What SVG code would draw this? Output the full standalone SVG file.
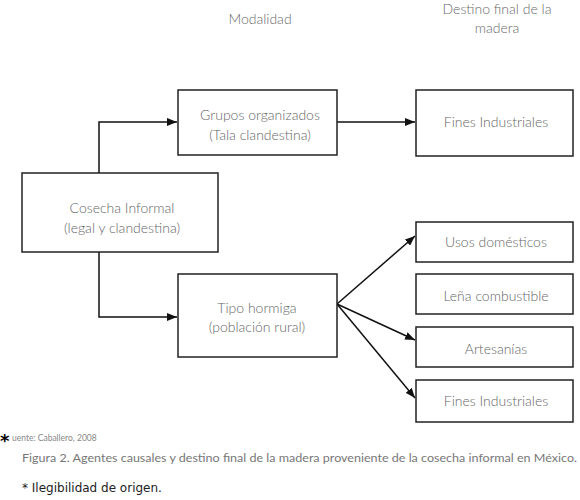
<svg xmlns="http://www.w3.org/2000/svg" width="580" height="500" viewBox="0 0 580 500">
<style>
  .box { fill: #fff; stroke: #222; stroke-width: 1.5; }
  .lbl { font-family: Lato, "Liberation Sans", sans-serif; font-size: 14px; fill: #666; text-anchor: middle; font-weight: 300; }
  .hdr { font-family: Lato, "Liberation Sans", sans-serif; font-size: 14px; fill: #6a6a6a; text-anchor: middle; font-weight: 300; }
  .con { fill: none; stroke: #111; stroke-width: 1.5; }
</style>
<defs>
  <marker id="ah" viewBox="0 0 10 8" refX="10" refY="4" markerWidth="10" markerHeight="8" markerUnits="userSpaceOnUse" orient="auto">
    <path d="M0,0 L10,4 L0,8 Z" fill="#111"/>
  </marker>
</defs>
<rect width="580" height="500" fill="#fff"/>
<g id="headers">
  <text class="hdr" x="260" y="24">Modalidad</text>
  <text class="hdr" x="497" y="14">Destino final de la</text>
  <text class="hdr" x="497" y="33">madera</text>
</g>
<g id="connectors">
  <path class="con" d="M99,173 V122 H177" marker-end="url(#ah)"/>
  <path class="con" d="M99,252 V317 H177" marker-end="url(#ah)"/>
  <path class="con" d="M337,122 H415" marker-end="url(#ah)"/>
  <path class="con" d="M337,304 L415,236" marker-end="url(#ah)"/>
  <path class="con" d="M337,304 L415,340" marker-end="url(#ah)"/>
  <path class="con" d="M337,304 L415,398" marker-end="url(#ah)"/>
</g>
<g id="cosecha">
  <rect class="box" x="22" y="173" width="196" height="79"/>
  <text class="lbl" x="122" y="213">Cosecha Informal</text>
  <text class="lbl" x="122" y="233">(legal y clandestina)</text>
</g>
<g id="grupos">
  <rect class="box" x="178" y="90" width="159" height="65"/>
  <text class="lbl" x="260" y="120">Grupos organizados</text>
  <text class="lbl" x="260" y="140">(Tala clandestina)</text>
</g>
<g id="tipo">
  <rect class="box" x="178" y="274" width="159" height="83"/>
  <text class="lbl" x="257" y="313">Tipo hormiga</text>
  <text class="lbl" x="257" y="332">(población rural)</text>
</g>
<g id="fines1">
  <rect class="box" x="416" y="90" width="157" height="66"/>
  <text class="lbl" x="496" y="127">Fines Industriales</text>
</g>
<g id="usos">
  <rect class="box" x="416" y="222" width="157" height="40"/>
  <text class="lbl" x="496" y="247">Usos domésticos</text>
</g>
<g id="lena">
  <rect class="box" x="416" y="274" width="157" height="40"/>
  <text class="lbl" x="496" y="301">Leña combustible</text>
</g>
<g id="artesanias">
  <rect class="box" x="416" y="327" width="157" height="40"/>
  <text class="lbl" x="496" y="354">Artesanías</text>
</g>
<g id="fines2">
  <rect class="box" x="416" y="380" width="157" height="42"/>
  <text class="lbl" x="496" y="406">Fines Industriales</text>
</g>
<g id="footer">
  <text x="0" y="447" font-family="'DejaVu Sans', sans-serif" font-size="18" font-weight="bold" fill="#000">*</text>
  <text x="12" y="441" font-family="Lato, 'Liberation Sans', sans-serif" font-size="8.5" fill="#888">uente: Caballero, 2008</text>
  <text x="22" y="462" font-family="Lato, 'Liberation Sans', sans-serif" font-size="11" fill="#777" textLength="555" lengthAdjust="spacingAndGlyphs">Figura 2. Agentes causales y destino final de la madera proveniente de la cosecha informal en México.</text>
  <text x="22" y="492" font-family="'DejaVu Sans', sans-serif" font-size="12" fill="#222">* Ilegibilidad de origen.</text>
</g>
</svg>
